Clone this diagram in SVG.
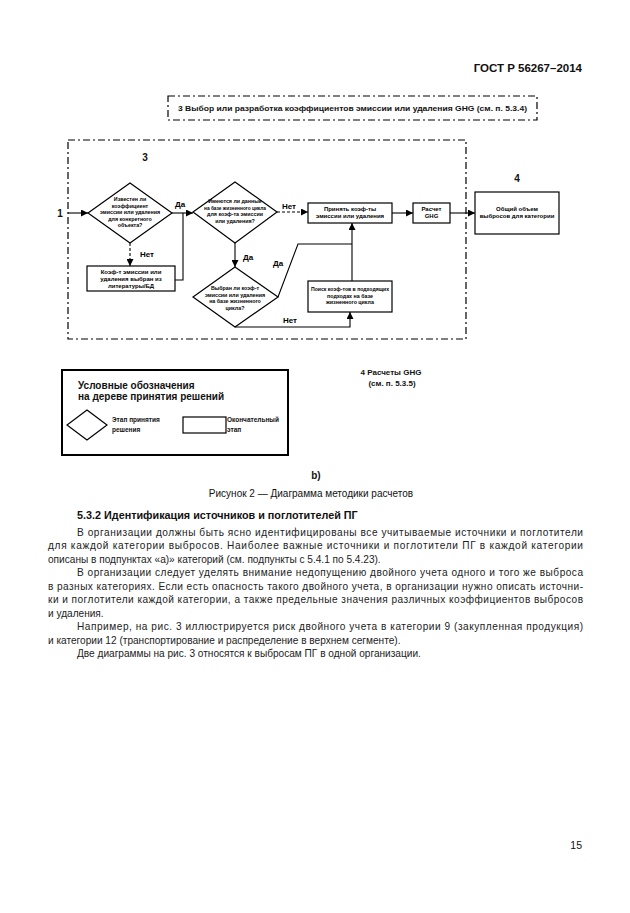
<svg xmlns="http://www.w3.org/2000/svg" width="630" height="913" viewBox="0 0 630 913">
<defs>
<marker id="arr" viewBox="0 0 10 10" refX="10" refY="5" markerWidth="7" markerHeight="7" markerUnits="userSpaceOnUse" orient="auto">
<path d="M0,0 L10,5 L0,10 z" fill="#000"/>
</marker>
<style>
.t{font-family:"Liberation Sans",Arial,sans-serif;fill:#111}
.b{font-weight:bold}
.tiny{font-family:"Liberation Sans",Arial,sans-serif;font-size:6px;font-weight:bold;fill:#000;text-anchor:middle}
.sm{font-size:5.3px}
.lbl{font-family:"Liberation Sans",Arial,sans-serif;font-size:8px;font-weight:bold;fill:#000}
.body{font-family:"Liberation Sans",Arial,sans-serif;font-size:10.1px;fill:#222}
.node{fill:#fff;stroke:#000;stroke-width:1.2}
.c{fill:none;stroke:#000;stroke-width:1.1}
.dash{stroke-dasharray:3,2}
.dd{fill:none;stroke:#000;stroke-width:1.2;stroke-dasharray:7,3,2,3}
</style>
</defs>
<rect width="630" height="913" fill="#fff"/>

<text class="t b" x="582" y="72" font-size="11.5" text-anchor="end">ГОСТ Р 56267–2014</text>

<g id="stage3-title">
<rect class="dd" x="168" y="96" width="369" height="24" stroke-width="1.6"/>
<text class="t b" x="178" y="111" font-size="7.5" textLength="349" lengthAdjust="spacingAndGlyphs">3 Выбор или разработка коэффициентов эмиссии или удаления GHG (см. п. 5.3.4)</text>
</g>

<g id="stage3-box">
<rect class="dd" x="68" y="140" width="398" height="199"/>
<text class="t b" x="145" y="161" font-size="10" text-anchor="middle">3</text>
</g>

<text class="t b" x="60" y="217" font-size="10" text-anchor="middle">1</text>

<g id="d1">
<polygon class="node" points="130,183 172,213 130,243 88,213"/>
<text class="tiny sm" x="130" y="201">Известен ли</text>
<text class="tiny sm" x="130" y="207.5">коэффициент</text>
<text class="tiny sm" x="130" y="214">эмиссии или удаления</text>
<text class="tiny sm" x="130" y="220.5">для конкретного</text>
<text class="tiny sm" x="130" y="227">объекта?</text>
</g>

<g id="b1">
<rect class="node" x="87" y="266" width="88" height="25"/>
<text class="tiny" x="131" y="273.5">Коэф-т эмиссии или</text>
<text class="tiny" x="131" y="280.5">удаления выбран из</text>
<text class="tiny" x="131" y="287.5">литературы/БД</text>
</g>

<g id="d2">
<polygon class="node" points="235,182 277,212 235,243 193,212"/>
<text class="tiny sm" x="235" y="203">Имеются ли данные</text>
<text class="tiny sm" x="235" y="209.5" textLength="62" lengthAdjust="spacingAndGlyphs">на базе жизненного цикла</text>
<text class="tiny sm" x="235" y="216">для коэф-та эмиссии</text>
<text class="tiny sm" x="235" y="222.5">или удаления?</text>
</g>

<g id="d3">
<polygon class="node" points="235,267 278,297 235,327 193,297"/>
<text class="tiny sm" x="235" y="290">Выбран ли коэф-т</text>
<text class="tiny sm" x="235" y="296.5">эмиссии или удаления</text>
<text class="tiny sm" x="235" y="303">на базе жизненного</text>
<text class="tiny sm" x="235" y="309.5">цикла?</text>
</g>

<g id="b2">
<rect class="node" x="308" y="203" width="84" height="20"/>
<text class="tiny" x="350" y="211">Принять коэф-ты</text>
<text class="tiny" x="350" y="218">эмиссии или удаления</text>
</g>

<g id="b3">
<rect class="node" x="413" y="203" width="37" height="20"/>
<text class="tiny" x="431.5" y="211">Расчет</text>
<text class="tiny" x="431.5" y="218">GHG</text>
</g>

<g id="b4">
<rect class="node" x="308" y="281" width="84" height="31"/>
<text class="tiny sm" x="350" y="291" textLength="78" lengthAdjust="spacingAndGlyphs">Поиск коэф-тов в подходящих</text>
<text class="tiny sm" x="350" y="297.5">подходах на базе</text>
<text class="tiny sm" x="350" y="304">жизненного цикла</text>
</g>

<g id="b5">
<rect class="node" x="475" y="192" width="84" height="42"/>
<text class="t b" x="517" y="182" font-size="10" text-anchor="middle">4</text>
<text class="tiny" x="517" y="211">Общий объем</text>
<text class="tiny" x="517" y="218">выбросов для категории</text>
</g>

<g id="connectors">
<line class="c" x1="68" y1="213" x2="88" y2="213" marker-end="url(#arr)"/>
<line class="c" x1="172" y1="213" x2="193" y2="213" marker-end="url(#arr)"/>
<line class="c dash" x1="130" y1="243" x2="130" y2="266" marker-end="url(#arr)"/>
<polyline class="c" points="175,280 183,280 183,213"/>
<line class="c dash" x1="277" y1="212" x2="308" y2="212" marker-end="url(#arr)"/>
<line class="c" x1="235" y1="243" x2="235" y2="267" marker-end="url(#arr)"/>
<polyline class="c" points="278,297 298,244 352,244"/>
<line class="c" x1="352" y1="281" x2="352" y2="223" marker-end="url(#arr)"/>
<polyline class="c" points="235,327 350,327 350,312" marker-end="url(#arr)"/>
<line class="c" x1="392" y1="213" x2="413" y2="213" marker-end="url(#arr)"/>
<line class="c" x1="450" y1="213" x2="475" y2="213" marker-end="url(#arr)"/>
<text class="lbl" x="175" y="207">Да</text>
<text class="lbl" x="140" y="257">Нет</text>
<text class="lbl" x="282" y="209">Нет</text>
<text class="lbl" x="243" y="260">Да</text>
<text class="lbl" x="273" y="266">Да</text>
<text class="lbl" x="283" y="323">Нет</text>
</g>

<text class="t b" x="391" y="375" font-size="8" text-anchor="middle">4 Расчеты GHG</text>
<text class="t b" x="392" y="386" font-size="8" text-anchor="middle">(см. п. 5.3.5)</text>

<g id="legend">
<rect x="62" y="370" width="226" height="85" fill="#fff" stroke="#000" stroke-width="2"/>
<text class="t b" x="78" y="389" font-size="10">Условные обозначения</text>
<text class="t b" x="78" y="400" font-size="10">на дереве принятия решений</text>
<polygon class="node" points="87,410 107,425 87,440 67,425" stroke-width="0.9"/>
<text class="t b" x="112" y="422" font-size="6.5">Этап принятия</text>
<text class="t b" x="112" y="432" font-size="6.5">решения</text>
<rect class="node" x="183" y="417" width="43" height="16" stroke-width="0.9"/>
<text class="t b" x="227" y="422" font-size="6.5">Окончательный</text>
<text class="t b" x="227" y="432" font-size="6.5">этап</text>
</g>

<text class="t b" x="316" y="479" font-size="10" text-anchor="middle">b)</text>
<text class="t" x="311" y="497" font-size="10" text-anchor="middle">Рисунок 2 — Диаграмма методики расчетов</text>
<text class="t b" x="77" y="519" font-size="10.8">5.3.2 Идентификация источников и поглотителей ПГ</text>

<text class="body" x="77" y="535.5" textLength="506" lengthAdjust="spacing">В организации должны быть ясно идентифицированы все учитываемые источники и поглотители</text>
<text class="body" x="48" y="549" textLength="535" lengthAdjust="spacing">для каждой категории выбросов. Наиболее важные источники и поглотители ПГ в каждой категории</text>
<text class="body" x="48" y="562.5">описаны в подпунктах «а)» категорий (см. подпункты с 5.4.1 по 5.4.23).</text>
<text class="body" x="77" y="576" textLength="506" lengthAdjust="spacing">В организации следует уделять внимание недопущению двойного учета одного и того же выброса</text>
<text class="body" x="48" y="589.5" textLength="535" lengthAdjust="spacing">в разных категориях. Если есть опасность такого двойного учета, в организации нужно описать источни-</text>
<text class="body" x="48" y="603" textLength="535" lengthAdjust="spacing">ки и поглотители каждой категории, а также предельные значения различных коэффициентов выбросов</text>
<text class="body" x="48" y="616.5">и удаления.</text>
<text class="body" x="77" y="630" textLength="506" lengthAdjust="spacing">Например, на рис. 3 иллюстрируется риск двойного учета в категории 9 (закупленная продукция)</text>
<text class="body" x="48" y="643.5">и категории 12 (транспортирование и распределение в верхнем сегменте).</text>
<text class="body" x="77" y="657">Две диаграммы на рис. 3 относятся к выбросам ПГ в одной организации.</text>

<text class="t" x="582" y="849" font-size="10.5" text-anchor="end">15</text>
</svg>
